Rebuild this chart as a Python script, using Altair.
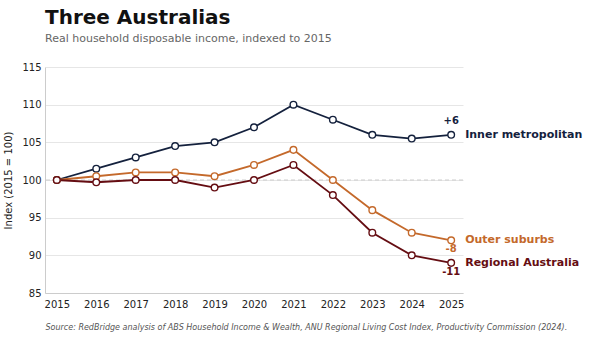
import altair as alt
import pandas as pd

years = [2015, 2016, 2017, 2018, 2019, 2020, 2021, 2022, 2023, 2024, 2025]
inner = [100, 101.5, 103, 104.5, 105, 107, 110, 108, 106, 105.5, 106]
outer = [100, 100.5, 101, 101, 100.5, 102, 104, 100, 96, 93, 92]
regional = [100, 99.7, 100, 100, 99, 100, 102, 98, 93, 90, 89]

series_names = ["Inner metropolitan", "Outer suburbs", "Regional Australia"]
series_colors = ["#14213d", "#c4692b", "#650d12"]
change_labels = ["+6", "-8", "-11"]
y_ticks = [85, 90, 95, 100, 105, 110, 115]
baseline_value = [100]

title_text = "Three Australias"
subtitle_text = "Real household disposable income, indexed to 2015"
source_text = ("Source: RedBridge analysis of ABS Household Income & Wealth, ANU Regional "
               "Living Cost Index, Productivity Commission (2024).")

rows = []
for name, vals in zip(series_names, [inner, outer, regional]):
    for yr, v in zip(years, vals):
        rows.append({"year": yr, "value": v, "series": name})
df = pd.DataFrame(rows)

end_df = pd.DataFrame({
    "year": [years[-1]] * 3,
    "value": [inner[-1], outer[-1], regional[-1]],
    "series": series_names,
    "change": change_labels,
})

FONT = "DejaVu Sans"
W, H = 418, 226
LEFT, TOP = 45, 67

xscale = alt.Scale(domain=[2014.7, 2025.3], nice=False, zero=False)
yscale = alt.Scale(domain=[85, 115], nice=False, zero=False)
cscale = alt.Scale(domain=series_names, range=series_colors)

x_axis = alt.Axis(
    values=years, format="d", grid=False, domain=True, domainColor="#cccccc",
    ticks=False, labelPadding=6, labelFontSize=10, labelColor="#222222", labelFont=FONT,
    labelOverlap=False,
    title=source_text, titleFont=FONT, titleFontSize=8, titleFontStyle="italic",
    titleFontWeight="normal", titleColor="#555555", titleAnchor="start", titleAlign="left",
    titleX=0, titleY=30,
)
y_axis = alt.Axis(
    values=y_ticks, grid=True, gridColor="#e6e6e6", domain=True, domainColor="#cccccc",
    ticks=False, labelPadding=4, labelFontSize=10, labelColor="#222222", labelFont=FONT,
    labelOverlap=False,
    title="Index (2015 = 100)", titleFont=FONT, titleFontSize=10, titleFontWeight="normal",
    titleColor="#222222", titlePadding=8,
)
x_enc = alt.X("year:Q", scale=xscale, axis=x_axis)
y_enc = alt.Y("value:Q", scale=yscale, axis=y_axis)
col = alt.Color("series:N", scale=cscale, legend=None)

base = alt.Chart(df)

ref = alt.Chart(pd.DataFrame({"value": baseline_value})).mark_rule(
    color="#cccccc", strokeDash=[4, 3], strokeWidth=1
).encode(y=y_enc)

lines = base.mark_line(strokeWidth=1.8).encode(x=x_enc, y=y_enc, color=col)
points = base.mark_point(filled=True, fill="white", size=44, strokeWidth=1.4, opacity=1).encode(
    x=x_enc, y=y_enc, stroke=alt.Stroke("series:N", scale=cscale, legend=None),
)

end = alt.Chart(end_df)
names = end.mark_text(align="left", baseline="middle", dx=14, font=FONT,
                      fontSize=11, fontWeight="bold").encode(
    x=x_enc, y=y_enc, text="series:N", color=col)
chg_up = end.transform_filter(alt.datum.series == series_names[0]).mark_text(
    align="center", baseline="middle", dy=-14, font=FONT, fontSize=10, fontWeight="bold"
).encode(x=x_enc, y=y_enc, text="change:N", color=col)
chg_down = end.transform_filter(alt.datum.series != series_names[0]).mark_text(
    align="center", baseline="middle", dy=9, font=FONT, fontSize=10, fontWeight="bold"
).encode(x=x_enc, y=y_enc, text="change:N", color=col)

chart = alt.layer(ref, lines, points, names, chg_up, chg_down).properties(
    width=W, height=H, background="white",
    title=alt.Title(title_text, subtitle=subtitle_text, anchor="start", frame="group",
                    font=FONT, fontSize=20, fontWeight="bold", color="#111111",
                    subtitleFont=FONT, subtitleFontSize=11, subtitleColor="#666666",
                    subtitlePadding=5, offset=18),
    autosize=alt.AutoSizeParams(type="none"),
    padding={"left": LEFT, "top": TOP, "right": 602 - LEFT - W, "bottom": 337 - TOP - H},
).configure_view(stroke=None)

chart.save("out.html", embed_options={"renderer": "svg", "actions": False})
